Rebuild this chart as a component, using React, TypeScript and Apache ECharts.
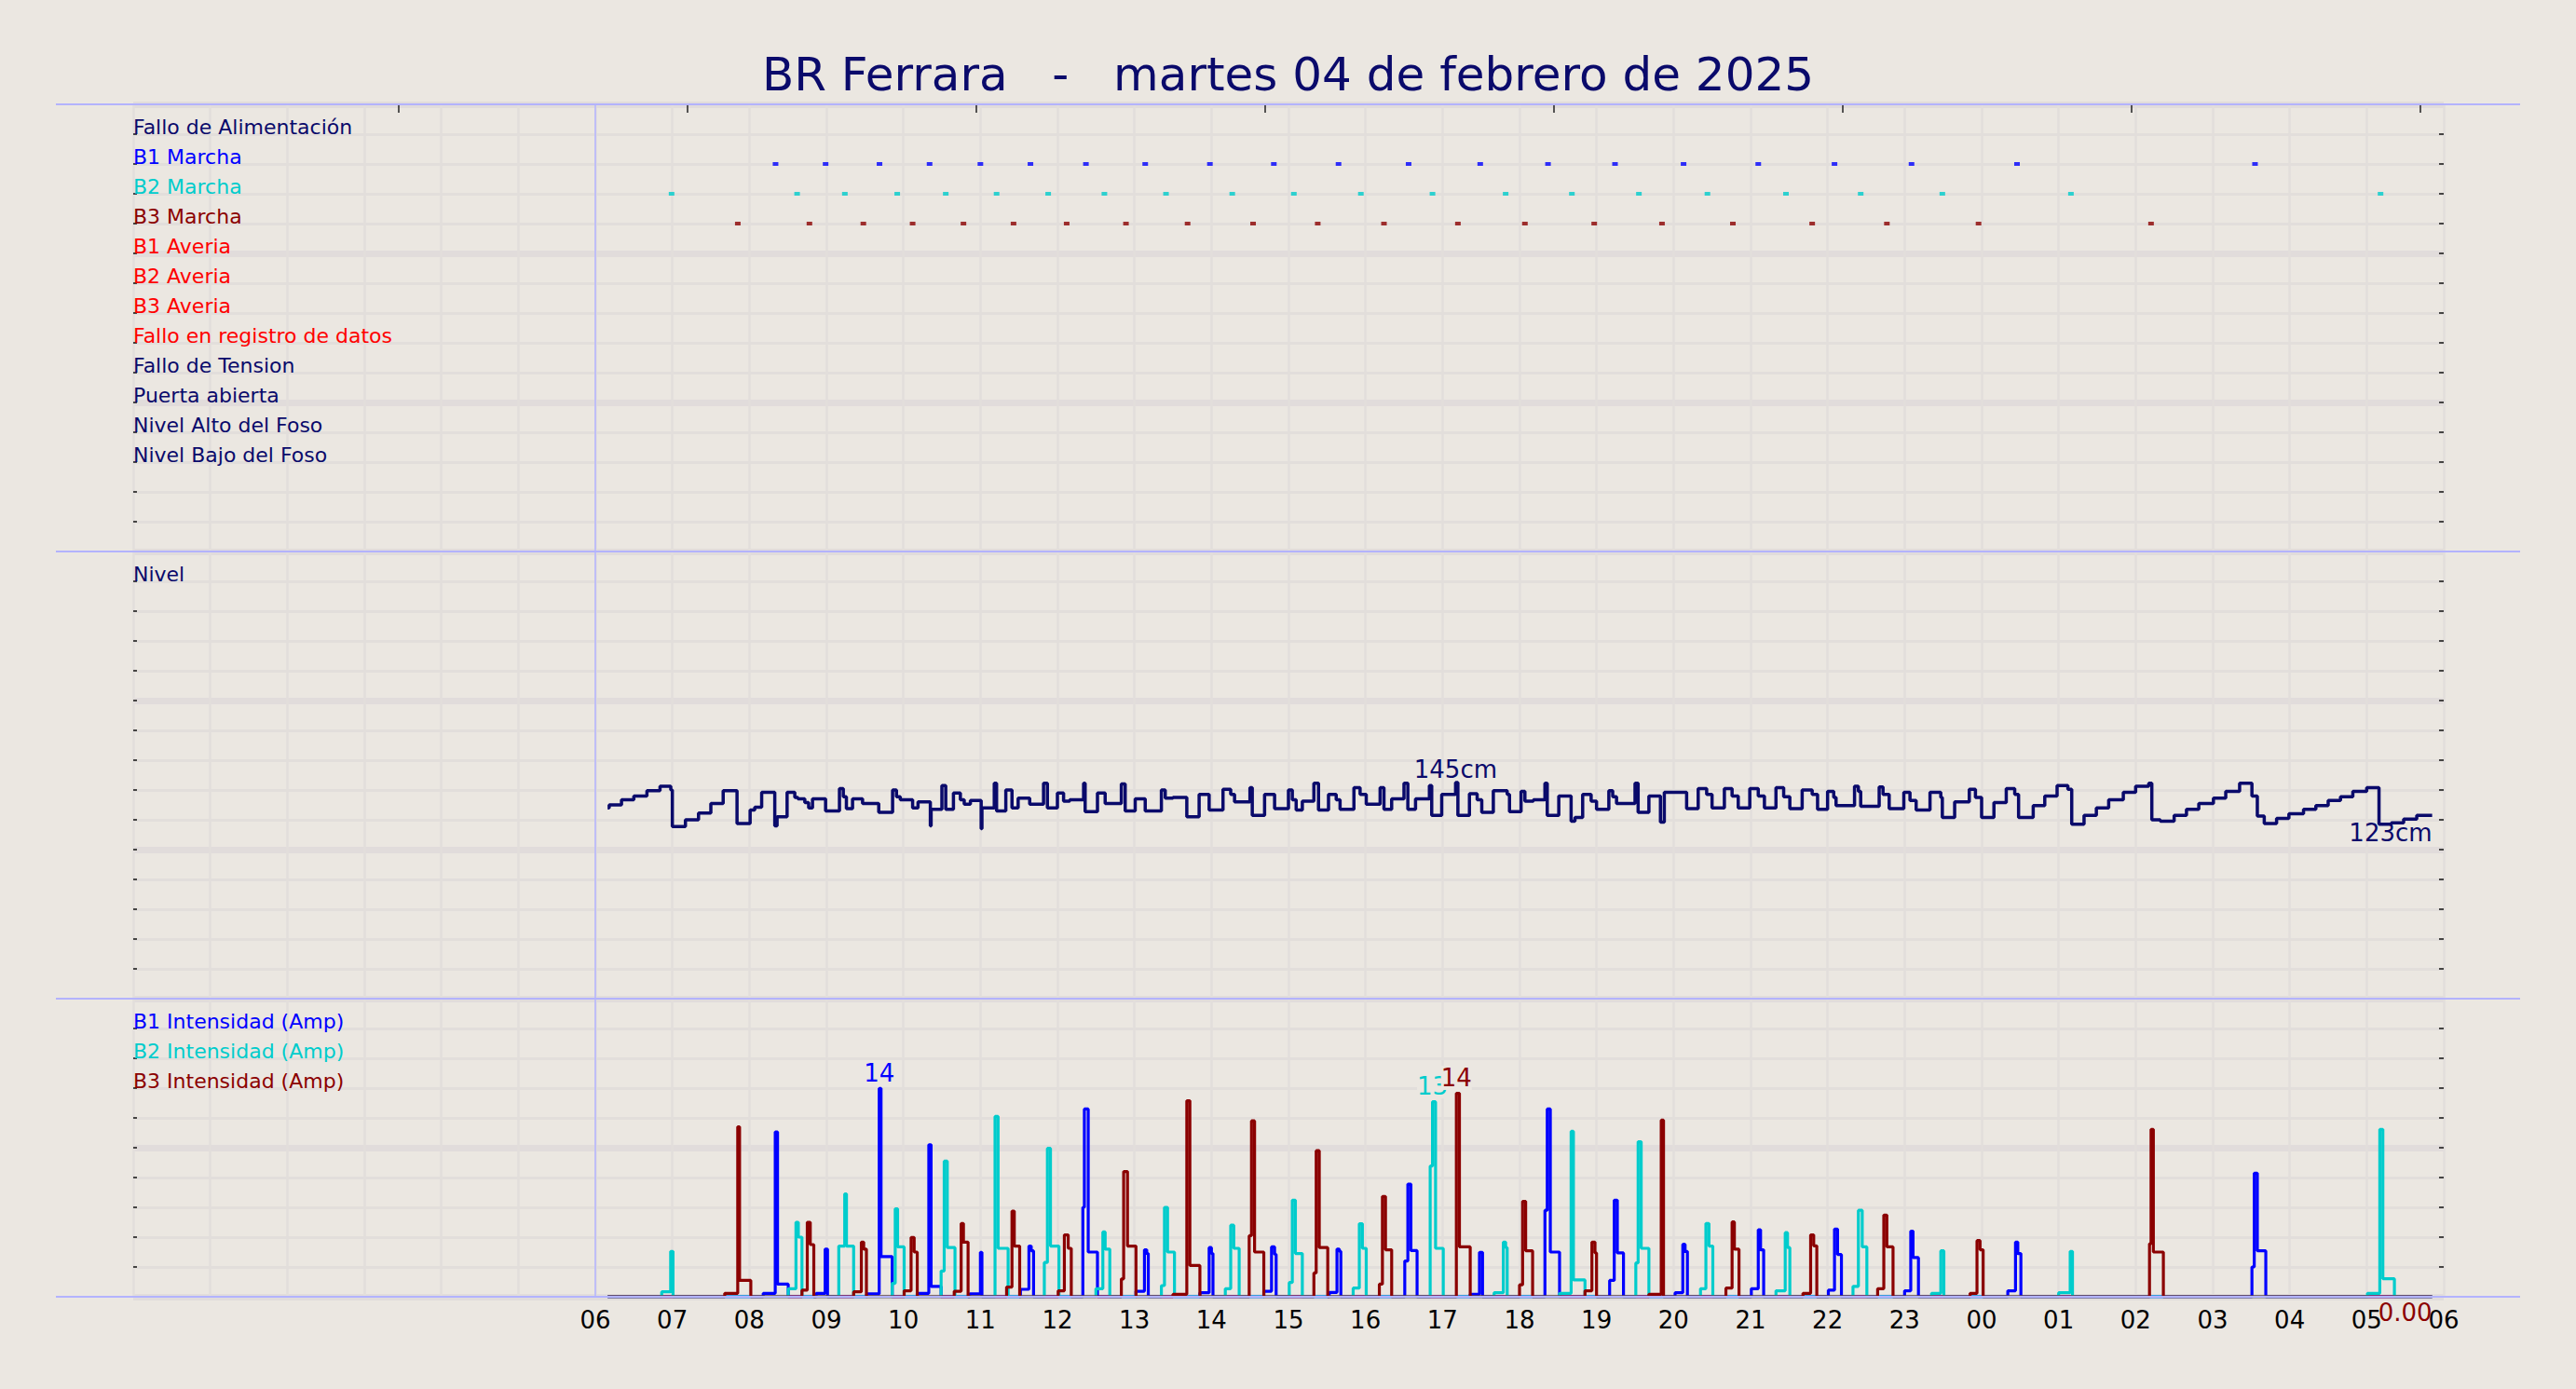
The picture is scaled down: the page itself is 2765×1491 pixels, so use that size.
import React, { useEffect, useRef } from 'react';
import * as echarts from 'echarts';

// ---------- text ----------
const TITLE = 'BR Ferrara \u00a0 - \u00a0 martes 04 de febrero de 2025';
const EVENT_LABELS = [
  'Fallo de Alimentación',
  'B1 Marcha',
  'B2 Marcha',
  'B3 Marcha',
  'B1 Averia',
  'B2 Averia',
  'B3 Averia',
  'Fallo en registro de datos',
  'Fallo de Tension',
  'Puerta abierta',
  'Nivel Alto del Foso',
  'Nivel Bajo del Foso',
];
const LEVEL_LABEL = 'Nivel';
const AMP_LABELS = ['B1 Intensidad (Amp)', 'B2 Intensidad (Amp)', 'B3 Intensidad (Amp)'];

// ---------- axes ----------
const HOUR_MIN = 0;
const HOUR_MAX = 30;
const TOP_TICKS = [3.45, 7.2, 10.95, 14.7, 18.45, 22.2, 25.95, 29.7];
const DATA_START = 6.16;
const DATA_END = 29.85;
const DAY_START = 6;

// ---------- pump start events (hours since 00:00) ----------
const B1_MARCHA = [8.34, 8.99, 9.69, 10.34, 11.0, 11.65, 12.37, 13.14, 13.98, 14.81, 15.65, 16.56, 17.49, 18.37, 19.24, 20.13, 21.1, 22.09, 23.09, 24.46, 27.55];
const B2_MARCHA = [6.99, 8.62, 9.24, 9.92, 10.55, 11.21, 11.88, 12.61, 13.41, 14.27, 15.07, 15.94, 16.87, 17.82, 18.68, 19.55, 20.44, 21.46, 22.43, 23.49, 25.16, 29.18];
const B3_MARCHA = [7.85, 8.78, 9.48, 10.12, 10.78, 11.43, 12.12, 12.89, 13.69, 14.54, 15.38, 16.24, 17.2, 18.07, 18.97, 19.85, 20.77, 21.8, 22.77, 23.96, 26.2];

// ---------- level (cm), step points [hour, cm] ----------
const LEVEL = [
  [6.16, 128], [6.18, 130], [6.34, 133.5], [6.5, 136], [6.67, 139.5], [6.84, 142.5], [6.98, 140], [7.0, 115.5], [7.17, 120], [7.34, 124.5], [7.5, 131], [7.66, 139.5], [7.84, 117.5], [8.01, 126.5], [8.07, 128.5], [8.16, 138.5], [8.33, 116], [8.36, 122], [8.49, 138.5], [8.59, 135], [8.63, 134], [8.72, 131.5], [8.77, 128], [8.82, 134], [8.99, 126], [9.17, 141], [9.22, 135.5], [9.26, 127.5], [9.34, 134], [9.47, 131], [9.68, 125], [9.86, 140], [9.91, 135.5], [9.96, 133.5], [10.12, 128], [10.19, 132], [10.35, 116], [10.36, 127], [10.5, 143], [10.55, 127], [10.65, 138], [10.74, 133.5], [10.79, 130.5], [10.87, 133], [11.01, 114], [11.02, 128], [11.18, 144.5], [11.21, 126], [11.33, 140], [11.41, 128], [11.49, 134.5], [11.64, 130.5], [11.82, 144.5], [11.87, 128], [12.0, 138], [12.08, 132.5], [12.16, 133.5], [12.34, 144.5], [12.36, 125.5], [12.52, 138], [12.62, 131], [12.83, 144], [12.88, 126], [13.01, 134], [13.14, 126], [13.35, 140], [13.4, 134.5], [13.5, 135], [13.68, 122], [13.84, 137],
  [13.97, 126.5], [14.15, 140.5], [14.25, 137], [14.3, 132], [14.5, 141.5], [14.53, 123], [14.69, 137], [14.82, 127.5], [15.0, 140], [15.05, 133.5], [15.1, 126.5], [15.18, 132.5], [15.33, 144.5], [15.39, 126.5], [15.52, 137], [15.62, 133.5], [15.67, 127], [15.85, 141.5], [15.93, 137], [16.01, 130.5], [16.19, 141.5], [16.24, 127], [16.34, 134], [16.5, 144.5], [16.55, 127], [16.65, 134], [16.83, 143], [16.86, 123], [16.99, 137], [17.17, 145], [17.2, 123], [17.35, 137.5], [17.45, 133.5], [17.51, 125], [17.66, 139.5], [17.84, 137], [17.87, 125.5], [18.02, 139], [18.07, 132.5], [18.18, 133.5], [18.33, 144.5], [18.36, 123], [18.51, 136], [18.67, 119], [18.72, 121.5], [18.82, 137], [18.93, 132.5], [19.0, 127], [19.16, 139.5], [19.21, 135.5], [19.26, 131], [19.5, 144.5], [19.54, 125], [19.68, 136], [19.83, 118.5], [19.88, 138.5], [20.17, 127.5], [20.32, 141], [20.43, 137], [20.5, 128], [20.66, 141], [20.76, 136], [20.84, 128], [20.99, 141], [21.1, 136], [21.18, 128], [21.33, 141.5], [21.43, 135.5], [21.51, 127.5], [21.67, 140], [21.8, 137], [21.87, 127],
  [22.0, 139], [22.08, 135], [22.11, 129.5], [22.35, 142.5], [22.4, 139], [22.43, 129], [22.67, 142], [22.72, 137], [22.8, 127.5], [22.99, 138.5], [23.07, 133], [23.15, 126.5], [23.33, 138.5], [23.47, 135], [23.49, 121.5], [23.65, 132], [23.84, 140.5], [23.92, 135], [24.0, 121.5], [24.16, 131.5], [24.32, 141], [24.43, 137], [24.48, 121.5], [24.67, 129.5], [24.82, 136], [24.98, 143], [25.12, 140.5], [25.17, 117], [25.33, 123], [25.49, 128], [25.65, 133.5], [25.84, 138.5], [26.0, 142.5], [26.17, 144.5], [26.21, 120], [26.32, 119], [26.5, 123], [26.66, 127], [26.82, 131], [27.01, 134.5], [27.17, 139], [27.35, 144.5], [27.51, 136], [27.58, 122.5], [27.67, 117.5], [27.83, 121], [27.99, 124], [28.18, 127], [28.34, 129.5], [28.5, 133], [28.66, 135.5], [28.82, 139], [29.0, 141.5], [29.16, 117], [29.32, 118], [29.48, 120.5], [29.65, 123], [29.85, 123],
];

// ---------- pump current runs ----------
// [tPre, preAmps, tPeak, peakAmps, tPlateau, plateauAmps, tStop]
const B1_RUNS = [
  [8.18, 0.23, 8.336, 11.06, 8.366, 0.85, 8.505],
  [8.868, 0.23, 8.984, 3.2, 9.015, 0, 9.015],
  [9.524, 0.19, 9.686, 13.98, 9.71, 2.69, 9.855],
  [10.18, 0.23, 10.33, 10.2, 10.36, 0.69, 10.49],
  [10.86, 0.19, 11.0, 2.98, 11.02, 0, 11.02],
  [11.52, 0.5, 11.63, 3.4, 11.66, 3.08, 11.69],
  [12.33, 6.0, 12.35, 12.6, 12.4, 3.0, 12.52],
  [13.02, 0.37, 13.13, 3.15, 13.16, 2.9, 13.18],
  [13.85, 0.27, 13.97, 3.3, 14.0, 2.9, 14.02],
  [14.68, 0.37, 14.78, 3.35, 14.82, 2.85, 14.84],
  [15.53, 0.29, 15.63, 3.2, 15.66, 3.05, 15.68],
  [16.51, 2.4, 16.55, 7.56, 16.59, 3.1, 16.67],
  [17.36, 0.17, 17.48, 2.98, 17.52, 0, 17.52],
  [18.33, 5.8, 18.36, 12.6, 18.4, 3.0, 18.52],
  [19.17, 1.1, 19.23, 6.48, 19.27, 2.94, 19.35],
  [20.02, 0.27, 20.12, 3.52, 20.15, 3.04, 20.18],
  [21.01, 0.54, 21.1, 4.5, 21.13, 3.15, 21.17],
  [22.01, 0.44, 22.09, 4.54, 22.13, 2.83, 22.18],
  [23.0, 0.4, 23.08, 4.4, 23.11, 2.63, 23.18],
  [24.34, 0.4, 24.44, 3.67, 24.47, 2.9, 24.51],
  [27.51, 2.0, 27.54, 8.29, 27.58, 3.08, 27.69],
];
const B2_RUNS = [
  [6.862, 0.33, 6.978, 3.04, 7.009, 0, 7.009],
  [8.505, 0.54, 8.605, 5.0, 8.636, 4.0, 8.683],
  [9.161, 3.4, 9.238, 6.9, 9.261, 3.4, 9.354],
  [9.855, 0.9, 9.894, 5.9, 9.925, 3.35, 10.01],
  [10.49, 1.73, 10.53, 9.1, 10.57, 3.3, 10.67],
  [11.19, 0, 11.19, 12.1, 11.23, 3.25, 11.36],
  [11.83, 2.3, 11.87, 9.96, 11.91, 3.4, 12.02],
  [12.5, 0.54, 12.59, 4.35, 12.62, 3.2, 12.68],
  [13.35, 0.75, 13.39, 6.0, 13.43, 3.0, 13.52],
  [14.18, 0.54, 14.25, 4.8, 14.29, 3.25, 14.36],
  [15.01, 0.96, 15.05, 6.48, 15.09, 2.9, 15.18],
  [15.84, 0.58, 15.92, 4.9, 15.96, 3.25, 16.01],
  [16.84, 8.77, 16.87, 13.08, 16.91, 3.25, 17.01],
  [17.67, 0.27, 17.79, 3.67, 17.82, 3.3, 17.84],
  [18.52, 0.23, 18.67, 11.1, 18.7, 1.13, 18.85],
  [19.51, 2.27, 19.54, 10.4, 19.58, 3.25, 19.68],
  [20.35, 0.54, 20.42, 4.92, 20.46, 3.4, 20.51],
  [21.33, 0.4, 21.45, 4.3, 21.48, 3.3, 21.51],
  [22.33, 0.7, 22.4, 5.8, 22.45, 3.35, 22.51],
  [23.35, 0.23, 23.47, 3.08, 23.51, 0, 23.51],
  [25.0, 0.27, 25.15, 3.04, 25.18, 0, 25.18],
  [29.01, 0.23, 29.17, 11.23, 29.21, 1.21, 29.36],
];
const B3_RUNS = [
  [7.68, 0.23, 7.849, 11.4, 7.873, 1.1, 8.019],
  [8.683, 0.44, 8.752, 5.0, 8.791, 3.5, 8.837],
  [9.354, 0.33, 9.454, 3.67, 9.485, 3.2, 9.52],
  [10.01, 0.4, 10.1, 3.98, 10.14, 3.0, 10.18],
  [10.66, 0.37, 10.75, 4.92, 10.78, 3.67, 10.84],
  [11.34, 0.65, 11.41, 5.75, 11.44, 3.4, 11.51],
  [12.01, 0.4, 12.09, 4.15, 12.14, 3.25, 12.18],
  [12.83, 1.2, 12.86, 8.4, 12.91, 3.4, 13.02],
  [13.5, 0.17, 13.68, 13.15, 13.72, 2.1, 13.85],
  [14.49, 4.1, 14.52, 11.8, 14.56, 3.0, 14.68],
  [15.33, 1.6, 15.36, 9.8, 15.4, 3.3, 15.51],
  [16.18, 0.85, 16.22, 6.73, 16.26, 3.15, 16.34],
  [17.18, 0, 17.18, 13.65, 17.22, 3.35, 17.36],
  [18.0, 0.8, 18.04, 6.4, 18.08, 3.08, 18.17],
  [18.85, 0.4, 18.94, 3.67, 18.98, 2.94, 19.0],
  [19.68, 0.17, 19.84, 11.85, 19.87, 0, 19.87],
  [20.68, 0.58, 20.76, 5.02, 20.79, 3.19, 20.85],
  [21.68, 0.23, 21.78, 4.15, 21.82, 3.42, 21.86],
  [22.65, 0.54, 22.73, 5.48, 22.77, 3.35, 22.85],
  [23.85, 0.23, 23.94, 3.77, 23.98, 3.15, 24.02],
  [26.18, 3.56, 26.2, 11.23, 26.23, 3.0, 26.36],
];
const B3_LAST_VALUE = 0;

// ---------- styles ----------
const FONT = 'DejaVu Sans';
const PAGE_BG = '#ebe7e1';
const GRID_MINOR = '#e2dedb';
const GRID_MAJOR = '#e1dcdb';
const SEP_BLUE = '#b3b3ff';
const NAVY = '#0a0a6b';
const BLUE = '#0000ff';
const CYAN = '#00cccc';
const DARKRED = '#8b0000';
const RED = '#ff0000';
const EVENT_COLORS = [NAVY, BLUE, CYAN, DARKRED, RED, RED, RED, RED, NAVY, NAVY, NAVY, NAVY];
const AMP_COLORS = [BLUE, CYAN, DARKRED];

const L = 143;
const W = 2480;

function runsToSteps(runs: number[][]) {
  const pts: number[][] = [[DATA_START, 0]];
  for (const [a, pre, b, peak, c, plat, d] of runs) {
    if (b > a) pts.push([a, pre]);
    pts.push([b, peak]);
    if (d > c) pts.push([c, plat]);
    pts.push([d, 0]);
  }
  pts.push([DATA_END, 0]);
  return pts;
}

function hourLabel(v: number) {
  if (v < DAY_START) return '';
  const h = Math.round(v) % 24;
  return (h < 10 ? '0' : '') + h;
}

function xAxisFor(grid: number, withLabels: boolean) {
  return {
    type: 'value',
    gridIndex: grid,
    min: HOUR_MIN,
    max: HOUR_MAX,
    interval: 1,
    axisLine: { show: false, onZero: false },
    axisTick: { show: false },
    axisLabel: withLabels
      ? { show: true, formatter: hourLabel, fontSize: 26, color: '#000', fontFamily: FONT, margin: 12 }
      : { show: false },
    splitLine: { show: true, lineStyle: { color: GRID_MINOR, width: 2.5 } },
  };
}

function yAxesFor(grid: number, max: number, step: number, major: number, labelFor: (v: number) => string, colorFor: (v: number) => string) {
  return [
    {
      type: 'value',
      gridIndex: grid,
      min: 0,
      max,
      interval: step,
      axisLine: { show: false, onZero: false },
      axisTick: { show: true, inside: true, length: 4, lineStyle: { color: '#111', width: 1.5 } },
      axisLabel: {
        show: true,
        inside: true,
        margin: 0,
        formatter: (v: number) => labelFor(Number(v)),
        color: (v: any) => colorFor(Number(v)),
        fontSize: 22,
        fontFamily: FONT,
        verticalAlign: 'bottom',
        lineHeight: 15,
        showMinLabel: true,
        showMaxLabel: true,
      },
      splitLine: { show: true, lineStyle: { color: GRID_MINOR, width: 3 } },
    },
    {
      type: 'value',
      gridIndex: grid,
      min: 0,
      max,
      interval: major,
      axisLine: { show: false, onZero: false },
      axisTick: { show: false },
      axisLabel: { show: false },
      splitLine: { show: true, lineStyle: { color: GRID_MAJOR, width: 7 } },
    },
    {
      type: 'value',
      gridIndex: grid,
      position: 'right',
      min: 0,
      max,
      interval: step,
      axisLine: { show: false, onZero: false },
      axisTick: { show: true, inside: true, length: 5, lineStyle: { color: '#111', width: 1.5 } },
      axisLabel: { show: false },
      splitLine: { show: false },
    },
  ];
}

const startLine = {
  silent: true,
  symbol: ['none', 'none'],
  label: { show: false },
  lineStyle: { color: SEP_BLUE, width: 1.5, type: 'solid' },
  data: [{ xAxis: DAY_START }],
};

function ampSeries(idx: number, runs: number[][], extraPoints: any[] = []) {
  const color = AMP_COLORS[idx];
  return {
    type: 'line',
    name: AMP_LABELS[idx],
    xAxisIndex: 3,
    yAxisIndex: 6,
    step: 'end',
    showSymbol: false,
    symbol: 'none',
    lineStyle: { color, width: 3.2 },
    itemStyle: { color },
    data: runsToSteps(runs),
    markLine: idx === 0 ? startLine : undefined,
    markPoint: {
      symbol: 'circle',
      symbolSize: 1,
      itemStyle: { color: 'rgba(0,0,0,0)' },
      label: {
        show: true,
        position: 'top',
        distance: 3,
        color,
        fontSize: 26,
        fontFamily: FONT,
        backgroundColor: PAGE_BG,
        formatter: (p: any) => String(Math.round(Number(p.value))),
      },
      data: [{ type: 'max', valueDim: 'y' }, ...extraPoints],
    },
  };
}

export default function App() {
  const ref = useRef<HTMLDivElement>(null);

  useEffect(() => {
    document.body.style.margin = '0';
    document.body.style.background = PAGE_BG;
    if (!ref.current) return;
    const chart = echarts.init(ref.current, undefined, { renderer: 'svg' });

    const eventLabel = (v: number) => {
      const i = 14 - v;
      return i >= 0 && i < EVENT_LABELS.length ? EVENT_LABELS[i] : '';
    };
    const eventColor = (v: number) => {
      const i = 14 - v;
      return i >= 0 && i < EVENT_COLORS.length ? EVENT_COLORS[i] : NAVY;
    };
    const ampLabel = (v: number) => {
      const i = (18 - v) / 2;
      return i >= 0 && i < AMP_LABELS.length && Number.isInteger(i) ? AMP_LABELS[i] : '';
    };
    const ampColor = (v: number) => {
      const i = (18 - v) / 2;
      return i >= 0 && i < AMP_COLORS.length && Number.isInteger(i) ? AMP_COLORS[i] : NAVY;
    };

    const marcha = (data: number[], row: number, color: string, withLine: boolean) => ({
      type: 'scatter',
      xAxisIndex: 0,
      yAxisIndex: 0,
      symbol: 'rect',
      symbolSize: [6, 4],
      itemStyle: { color },
      data: data.map((t) => [t, row]),
      markLine: withLine ? startLine : undefined,
    });

    const option: any = {
      animation: false,
      backgroundColor: PAGE_BG,
      textStyle: { fontFamily: FONT },
      title: {
        text: TITLE,
        left: 'center',
        top: 50,
        textStyle: { fontSize: 50, fontWeight: 'normal', color: NAVY, fontFamily: FONT },
      },
      grid: [
        { left: L, width: W, top: 112, height: 480 },
        { left: L, width: W, top: 592, height: 480 },
        { left: L, width: W, top: 1072, height: 320 },
      ],
      xAxis: [
        xAxisFor(0, false),
        {
          type: 'value',
          gridIndex: 0,
          position: 'top',
          min: HOUR_MIN,
          max: HOUR_MAX,
          axisLine: { show: false, onZero: false },
          axisTick: { show: true, inside: true, length: 9, customValues: TOP_TICKS, lineStyle: { color: '#222', width: 1.5 } },
          axisLabel: { show: false },
          splitLine: { show: false },
        },
        xAxisFor(1, false),
        xAxisFor(2, true),
      ],
      yAxis: [
        ...yAxesFor(0, 15, 1, 5, eventLabel, eventColor),
        ...yAxesFor(1, 300, 20, 100, (v) => (v === 280 ? LEVEL_LABEL : ''), () => NAVY),
        ...yAxesFor(2, 20, 2, 10, ampLabel, ampColor),
      ],
      graphic: [
        { type: 'line', shape: { x1: 60, y1: 112, x2: 2705, y2: 112 }, style: { stroke: SEP_BLUE, lineWidth: 2 }, z: 100 },
        { type: 'line', shape: { x1: 60, y1: 592, x2: 2705, y2: 592 }, style: { stroke: SEP_BLUE, lineWidth: 2 }, z: 100 },
        { type: 'line', shape: { x1: 60, y1: 1072, x2: 2705, y2: 1072 }, style: { stroke: SEP_BLUE, lineWidth: 2 }, z: 100 },
        { type: 'line', shape: { x1: 60, y1: 1392, x2: 2705, y2: 1392 }, style: { stroke: SEP_BLUE, lineWidth: 2 }, z: 100 },
      ],
      series: [
        marcha(B1_MARCHA, 13, BLUE, true),
        marcha(B2_MARCHA, 12, CYAN, false),
        marcha(B3_MARCHA, 11, DARKRED, false),
        {
          type: 'line',
          name: LEVEL_LABEL,
          xAxisIndex: 2,
          yAxisIndex: 3,
          step: 'end',
          showSymbol: false,
          symbol: 'none',
          lineStyle: { color: NAVY, width: 3.5 },
          itemStyle: { color: NAVY },
          data: LEVEL,
          markLine: startLine,
          markPoint: {
            symbol: 'circle',
            symbolSize: 1,
            itemStyle: { color: 'rgba(0,0,0,0)' },
            label: {
              show: true,
              color: NAVY,
              fontSize: 26,
              fontFamily: FONT,
              formatter: (p: any) => Math.round(Number(p.value)) + 'cm',
            },
            data: [
              { type: 'max', valueDim: 'y', label: { position: 'top', distance: 1 } },
              {
                coord: LEVEL[LEVEL.length - 1],
                value: LEVEL[LEVEL.length - 1][1],
                label: { position: 'bottom', distance: 5, align: 'right' },
              },
            ],
          },
        },
        ampSeries(0, B1_RUNS),
        ampSeries(1, B2_RUNS),
        ampSeries(2, B3_RUNS, [
          {
            coord: [DATA_END, B3_LAST_VALUE],
            value: B3_LAST_VALUE,
            label: {
              position: 'bottom',
              distance: 3,
              align: 'right',
              backgroundColor: 'transparent',
              formatter: (p: any) => Number(p.value).toFixed(2),
            },
          },
        ]),
      ],
    };

    chart.setOption(option);
    return () => chart.dispose();
  }, []);

  return <div ref={ref} style={{ width: 2765, height: 1491 }} />;
}
